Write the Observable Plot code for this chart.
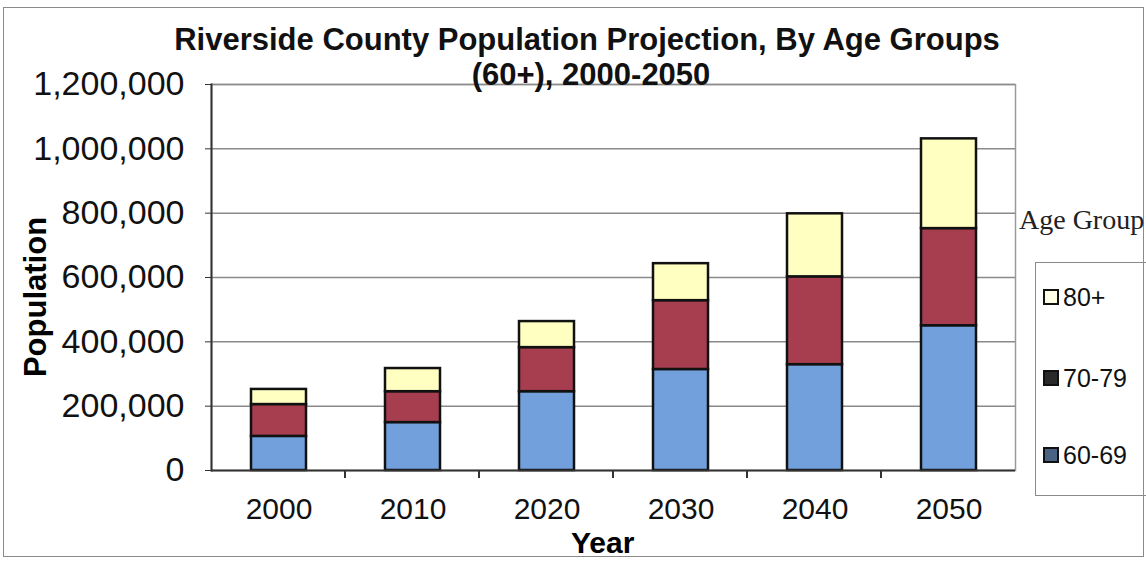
<!DOCTYPE html>
<html>
<head>
<meta charset="utf-8">
<script src="https://cdn.jsdelivr.net/npm/d3@7"></script>
<script src="https://cdn.jsdelivr.net/npm/@observablehq/plot@0.6"></script>
<style>
  body { margin: 0; background: #fff; }
  #wrap { position: relative; width: 1146px; height: 561px; overflow: hidden; font-family: Arial, "Liberation Sans", sans-serif; }
  #wrap svg { position: absolute; left: 0; top: 0; }
  .abs { position: absolute; white-space: nowrap; }
  .title { font-weight: bold; font-size: 31px; color: #111; text-align: center; width: 1146px; left: 0; }
  .sw { display: inline-block; width: 12px; height: 12px; border: 2px solid #111; margin-right: 4px; vertical-align: middle; position: relative; top: -2px; }
</style>
</head>
<body>
<div id="wrap"></div>
<script>
const years = ["2000", "2010", "2020", "2030", "2040", "2050"];
const groups = ["60-69", "70-79", "80+"];
const pop6069 = [106000, 149000, 245000, 314000, 329000, 450000];
const pop7079 = [99000, 96000, 137000, 214000, 273000, 302000];
const pop80 = [47000, 72000, 81000, 115000, 196000, 279000];
const yTicks = [0, 200000, 400000, 600000, 800000, 1000000, 1200000];
const colors = ["#72a0dc", "#a63e50", "#ffffc2"];

const series = [pop6069, pop7079, pop80];
const data = [];
years.forEach((yr, i) => {
  groups.forEach((g, j) => data.push({year: yr, group: g, value: series[j][i]}));
});

const chart = Plot.plot({
  width: 1146,
  height: 561,
  marginLeft: 211,
  marginRight: 131,
  marginTop: 84,
  marginBottom: 91,
  style: {fontFamily: "Arial, 'Liberation Sans', sans-serif", fontSize: "32px", color: "#111", background: "transparent"},
  x: {domain: years, paddingInner: 0.59, paddingOuter: 0.295, label: null},
  y: {domain: [0, 1200000], label: null},
  color: {domain: groups, range: colors},
  marks: [
    Plot.frame({stroke: "#9a9a9a", strokeWidth: 1.5}),
    Plot.ruleY(yTicks.slice(1), {stroke: "#8a8a8a", strokeWidth: 1.5}),
    Plot.barY(data, {x: "year", y: "value", fill: "group", stroke: "#111", strokeWidth: 2.5}),
    Plot.ruleY([0], {stroke: "#333", strokeWidth: 2}),
    Plot.frame({anchor: "left", stroke: "#333", strokeWidth: 2}),
    Plot.axisY({ticks: yTicks, tickFormat: d3.format(","), tickSize: 6, tickPadding: 21, fontSize: 34, stroke: "#333"}),
    Plot.axisX({tickSize: 0, tickPadding: 27, fontSize: 30})
  ]
});

const wrap = document.getElementById("wrap");
wrap.appendChild(chart);

// band boundary ticks on the x axis
const sx = chart.scale("x");
const sy = chart.scale("y");
const y0 = sy.apply(0);
const svg = d3.select(chart);
const r0 = Math.min(...sx.range);
for (let k = 1; k < years.length; k++) {
  const xb = r0 + k * sx.step;
  svg.append("line").attr("x1", xb).attr("x2", xb).attr("y1", y0).attr("y2", y0 + 8)
    .attr("stroke", "#333").attr("stroke-width", 2);
}

function addDiv(cls, html, css) {
  const d = document.createElement("div");
  d.className = "abs " + cls;
  d.innerHTML = html;
  Object.assign(d.style, css);
  wrap.appendChild(d);
  return d;
}
// outer border
addDiv("", "", {left: "3px", top: "7px", width: "1139px", height: "548px", border: "1.5px solid #8a8a8a"});
addDiv("title", "Riverside County Population Projection, By Age Groups", {top: "22px", left: "14px"});
addDiv("title", "(60+), 2000-2050", {top: "57px", left: "18px"});
addDiv("", "Year", {left: "571px", top: "526px", fontWeight: "bold", fontSize: "30px"});
addDiv("", "Population", {left: "36px", top: "297px", fontWeight: "bold", fontSize: "31px", transform: "translate(-50%,-50%) rotate(-90deg)"});
addDiv("", "Age Group", {left: "1019px", top: "204px", fontFamily: "'Liberation Serif', 'DejaVu Serif', serif", fontSize: "28px", color: "#222"});
// legend box
addDiv("", "", {left: "1035px", top: "262px", width: "120px", height: "232px", border: "1.5px solid #8a8a8a"});
const swFill = {"80+": "#ffffe6", "70-79": "#2a2a2a", "60-69": "#4a6283"};
const legendY = {"80+": 283, "70-79": 364, "60-69": 441};
["80+", "70-79", "60-69"].forEach(g => {
  addDiv("", `<span class="sw" style="background:${swFill[g]}"></span>${g}`, {left: "1043px", top: legendY[g] + "px", fontSize: "25px", color: "#111"});
});
</script>
</body>
</html>
